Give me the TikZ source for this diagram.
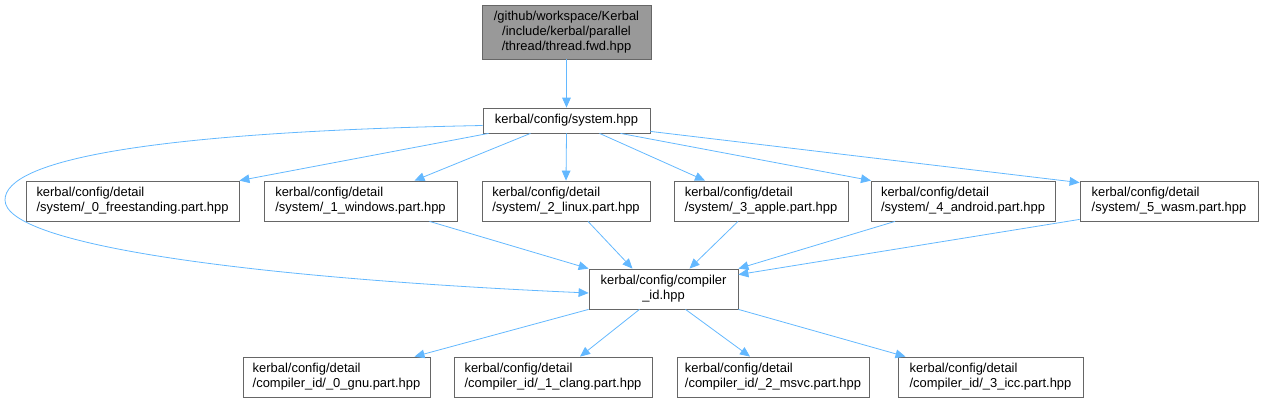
\documentclass[tikz,border=0pt]{standalone}
\usepackage{fontspec}
\setmainfont{Liberation Sans}
\usetikzlibrary{arrows.meta,calc}
\definecolor{edgec}{HTML}{63B8FF}
\definecolor{bordc}{HTML}{666666}
\definecolor{topfill}{HTML}{999999}
\tikzset{
  box/.style={draw=bordc, line width=0.6pt, fill=white, inner sep=0pt, align=left,
    font=\fontsize{9.7}{11.4}\selectfont},
  edge/.style={draw=edgec, line width=0.6pt, -{Triangle[length=7.5pt,width=6.5pt]}},
}
\begin{document}
\begin{tikzpicture}[x=0.75pt,y=-0.75pt]
\useasboundingbox (0,0) rectangle (1263,403);
% top
\node[box, fill=topfill, align=center, minimum width={169*0.75pt}, minimum height={54*0.75pt}] (top) at (566.5,32) {/github/workspace/Kerbal\\/include/kerbal/parallel\\/thread/thread.fwd.hpp};
\node[box, align=center, minimum width={167*0.75pt}, minimum height={25*0.75pt}] (sys) at (566.5,120.5) {kerbal/config/system.hpp};
% system parts
\node[box, minimum width={213*0.75pt}, minimum height={40*0.75pt}] (free) at (132.5,201) {kerbal/config/detail\\/system/\_0\_freestanding.part.hpp};
\node[box, minimum width={193*0.75pt}, minimum height={40*0.75pt}] (win) at (360.5,201) {kerbal/config/detail\\/system/\_1\_windows.part.hpp};
\node[box, minimum width={168*0.75pt}, minimum height={40*0.75pt}] (linux) at (566,201) {kerbal/config/detail\\/system/\_2\_linux.part.hpp};
\node[box, minimum width={174*0.75pt}, minimum height={40*0.75pt}] (apple) at (761,201) {kerbal/config/detail\\/system/\_3\_apple.part.hpp};
\node[box, minimum width={184*0.75pt}, minimum height={40*0.75pt}] (android) at (963,201) {kerbal/config/detail\\/system/\_4\_android.part.hpp};
\node[box, minimum width={178*0.75pt}, minimum height={40*0.75pt}] (wasm) at (1169,201) {kerbal/config/detail\\/system/\_5\_wasm.part.hpp};
% compiler id
\node[box, align=center, minimum width={149*0.75pt}, minimum height={40*0.75pt}] (cid) at (663.5,289) {kerbal/config/compiler\\\_id.hpp};
% compiler parts
\node[box, minimum width={187*0.75pt}, minimum height={40*0.75pt}] (gnu) at (336.5,377) {kerbal/config/detail\\/compiler\_id/\_0\_gnu.part.hpp};
\node[box, minimum width={198*0.75pt}, minimum height={40*0.75pt}] (clang) at (553,377) {kerbal/config/detail\\/compiler\_id/\_1\_clang.part.hpp};
\node[box, minimum width={192*0.75pt}, minimum height={40*0.75pt}] (msvc) at (773,377) {kerbal/config/detail\\/compiler\_id/\_2\_msvc.part.hpp};
\node[box, minimum width={185*0.75pt}, minimum height={40*0.75pt}] (icc) at (990.5,377) {kerbal/config/detail\\/compiler\_id/\_3\_icc.part.hpp};
% edges
\path[edge] (top) -- (sys);
\path[edge] ([xshift={6*0.75pt}]sys.south west) -- (free.north east);
\path[edge] ([xshift={-36*0.75pt}]sys.south) -- ([xshift={54*0.75pt}]win.north);
\path[edge] (sys.south) -- (linux.north);
\path[edge] ([xshift={33*0.75pt}]sys.south) -- ([xshift={-56*0.75pt}]apple.north);
\path[edge] ([xshift={54*0.75pt}]sys.south) -- ([xshift={-92*0.75pt}]android.north);
\path[edge] ([yshift={2*0.75pt}]sys.south east) -- ([yshift={-2*0.75pt}]wasm.north west);
\path[edge] ([yshift={-5*0.75pt}]sys.west) .. controls (150,132) and (5,160) .. (5,200)
   .. controls (5,245) and (250,278) .. ([yshift={-4*0.75pt}]cid.west);
\path[edge] ([xshift={69*0.75pt}]win.south) -- (cid.north west);
\path[edge] ([xshift={22*0.75pt}]linux.south) -- ([xshift={-31*0.75pt}]cid.north);
\path[edge] ([xshift={-23*0.75pt}]apple.south) -- ([xshift={26*0.75pt}]cid.north);
\path[edge] ([xshift={-68*0.75pt}]android.south) -- (cid.north east);
\path[edge] ([yshift={2*0.75pt}]wasm.south west) -- ([yshift={-6*0.75pt}]cid.north east);
\path[edge] (cid.south west) -- ([xshift={78*0.75pt}]gnu.north);
\path[edge] ([xshift={-24*0.75pt}]cid.south) -- ([xshift={27*0.75pt}]clang.north);
\path[edge] ([xshift={22*0.75pt}]cid.south) -- ([xshift={-23*0.75pt}]msvc.north);
\path[edge] (cid.south east) -- ([xshift={-85*0.75pt}]icc.north);
\end{tikzpicture}
\end{document}
